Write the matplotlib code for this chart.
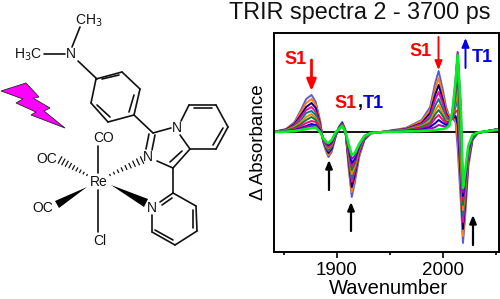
import matplotlib
matplotlib.use('Agg')
import matplotlib.pyplot as plt
import numpy as np

plt.rcParams['font.family'] = ['Liberation Sans', 'DejaVu Sans']

wavenumber = [1842, 1852, 1860, 1866, 1871, 1876, 1880, 1884, 1887, 1890, 1892, 1895, 1899, 1902,
              1905, 1908, 1911, 1914, 1917, 1921, 1926, 1932, 1945, 1965, 1980, 1988, 1993, 1996,
              2000, 2003, 2006, 2009, 2012, 2014, 2017, 2019, 2021, 2024, 2028, 2033, 2053]

s01 = [0.5, 3, 10, 22, 33, 37, 30, 12, -10, -20, -25, -20, -4, 5, 10, 2, -35, -65, -50, -25, -8, -1.5, 0.5, 4, 12, 25, 50, 61, 42, 25, 16, 14, 10, -16, -70, -111, -85, -35, -8, -1, 3]
s02 = [0.4, 2.7, 9, 20, 29, 33, 27, 11, -9, -19, -23, -18, -4, 5, 9, 2, -32, -60, -46, -23, -7, -1.5, 0.4, 3.5, 11, 22, 44, 54, 37, 22, 15, 14, 13, -6, -60, -104, -80, -33, -7, -1, 3]
s03 = [0.4, 2.4, 8, 17, 25, 29, 24, 9, -9, -17, -21, -17, -3, 5, 9, 1, -29, -55, -43, -21, -7, -1, 0.4, 3, 9, 19, 38, 47, 32, 19, 13, 13, 16, 8, -50, -97, -74, -30, -7, -1, 3]
s04 = [0.3, 2, 7, 15, 22, 25, 20, 8, -8, -16, -19, -15, -3, 4, 8, 1, -26, -50, -39, -20, -6, -1, 0.3, 2.7, 8, 16, 33, 40, 28, 17, 12, 13, 20, 22, -40, -90, -69, -28, -6, -1, 3]
s05 = [0.3, 1.7, 6, 12, 19, 21, 17, 6, -8, -15, -18, -14, -2, 4, 8, 1, -24, -46, -36, -18, -6, -1, 0.3, 2.3, 7, 14, 27, 33, 23, 14, 11, 13, 25, 34, -30, -84, -64, -26, -6, -1, 3]
s06 = [0.2, 1.5, 5, 10, 15, 18, 14, 5, -7, -14, -16, -13, -2, 4, 7, 1, -22, -42, -34, -17, -5, -1, 0.2, 2, 6, 11, 22, 27, 19, 12, 10, 14, 30, 46, -20, -78, -60, -24, -5, -1, 3]
s07 = [0.2, 1.2, 4, 8, 12, 15, 12, 4, -7, -13, -15, -12, -2, 4, 7, 0.5, -20, -38, -31, -16, -5, -1, 0.2, 1.7, 5, 9, 18, 22, 16, 10, 10, 15, 36, 58, -8, -73, -56, -22, -5, -1, 3]
s08 = [0.2, 1, 3, 6, 9, 11, 10, 3, -7, -12, -14, -11, -1, 3, 7, 0.5, -18, -34, -29, -15, -5, -1, 0.1, 1.3, 3.5, 7, 14, 17, 12, 9, 9, 16, 42, 70, 5, -68, -52, -20, -4, -0.7, 3]
s09 = [0.1, 0.7, 2, 4, 6, 8, 7, 2, -6, -11, -13, -10, -1, 3, 6, 0.5, -16, -31, -27, -14, -4, -1, 0.1, 1, 2.5, 5, 9, 12, 9, 7, 9, 17, 48, 78, 15, -64, -48, -18, -4, -0.7, 3]
s10 = [0.1, 0.5, 1.5, 3, 5, 6, 6, 1, -6, -11, -12, -9, -0.5, 3, 6, 0, -14, -27, -24, -13, -4, -1, 0, 0.7, 1.7, 3, 5, 7, 6, 5, 8, 20, 52, 80, 25, -60, -44, -16, -4, -0.5, 3]
s11 = [0, 0.3, 1, 2, 3, 4, 4.5, 0, -6, -10, -11, -8, 0, 3, 6, 0, -12, -23, -21, -12, -4, -1, 0, 0.5, 1, 1.5, 2, 2.5, 3, 4, 6, 20, 50, 77, 20, -56, -40, -14, -3, -0.5, 2.5]
series = [s01, s02, s03, s04, s05, s06, s07, s08, s09, s10, s11]
colors = ['#5b5bd6', '#ff8000', '#000080', '#ff00a0', '#008080', '#ff8000', '#008040', '#ff0080', '#0000d0', '#a000c0', '#00f020']

x_ticks = [1900, 2000]
x_minor = [1850, 1950, 2050]

fig = plt.figure(figsize=(5, 2.99), dpi=100)
ax = fig.add_axes([274 / 500, 1 - 252 / 299, 225 / 500, 219 / 299])
ax.axhline(0, color='black', lw=1.3)
for s, c in zip(series, colors):
    ax.plot(wavenumber, s, color=c, lw=1.9 if c == '#00f020' else 1.4)
ax.set_xlim(1840.6, 2053)
ax.set_ylim(-120, 99)
ax.set_yticks([])
ax.set_xticks(x_ticks)
ax.set_xticks(x_minor, minor=True)
ax.tick_params(axis='x', which='major', length=4, width=1.2, labelsize=13.5, pad=3)
ax.tick_params(axis='x', which='minor', length=2.5, width=1.2)
for sp in ax.spines.values():
    sp.set_linewidth(1.4)
ax.set_xlabel('Wavenumber', fontsize=14.5, labelpad=0.5, x=0.51)
ax.set_ylabel('\u0394 Absorbance', fontsize=13.5, labelpad=5)

# overlay in pixel coordinates for the drawing and labels
ov = fig.add_axes([0, 0, 1, 1])
ov.set_xlim(0, 500)
ov.set_ylim(299, 0)
ov.axis('off')

bonds = [[(72, 47), (80, 27)], [(44, 54), (65, 54)], [(78, 61), (97, 79)],
         [(96, 79), (122, 72)], [(122, 72), (140, 89)], [(140, 89), (134, 115)],
         [(134, 115), (108, 122)], [(108, 122), (91, 103)], [(91, 103), (96, 79)],
         [(102, 79), (119, 75)], [(134, 95), (129, 112)], [(97, 105), (110, 117)],
         [(134, 115), (153, 133)], [(153, 133), (171, 128)],
         [(155, 135), (152, 150)], [(149, 134), (146, 149)],
         [(180, 135), (190, 149)], [(190, 149), (173, 168)], [(182, 151), (170, 162)],
         [(173, 168), (157, 161)],
         [(181, 121), (189, 105)], [(189, 105), (216, 105)], [(216, 105), (228, 127)],
         [(228, 127), (216, 149)], [(216, 149), (190, 149)],
         [(194, 108), (212, 108)], [(223, 128), (213, 145)],
         [(173, 168), (173, 193)], [(173, 193), (160, 202)], [(173, 193), (196, 206)],
         [(196, 206), (197, 231)], [(197, 231), (175, 245)], [(175, 245), (152, 232)],
         [(152, 215), (152, 232)], [(172, 198), (162, 205)], [(193, 210), (193, 228)],
         [(155, 230), (173, 240)],
         [(98, 146), (98, 173)], [(98, 190), (98, 232)]]
for b in bonds:
    ov.plot([b[0][0], b[1][0]], [b[0][1], b[1][1]], color='#111111', lw=1.2, solid_capstyle='round')

hashed = [[(87, 175), (60, 160)], [(110, 175), (142, 160)]]
for (x0, y0), (x1, y1) in hashed:
    d = np.array([x1 - x0, y1 - y0], float)
    n = np.array([-d[1], d[0]]) / np.hypot(*d)
    for t in np.linspace(0, 1, 9):
        c = np.array([x0, y0]) + d * t
        h = 0.5 + 3.0 * t
        ov.plot([c[0] - n[0] * h, c[0] + n[0] * h], [c[1] - n[1] * h, c[1] + n[1] * h], color='#111111', lw=0.9)

wedges = [[(87, 187), (55, 201), (59, 208)], [(111, 185), (148, 199), (144, 207)]]
for w in wedges:
    ov.fill(*zip(*w), color='black', lw=0)

bolt = [(1, 91), (26, 83), (39, 97), (33, 98), (50, 108), (44, 111), (65, 128), (31, 115), (36, 112), (16, 103), (23, 99)]
ov.fill(*zip(*bolt), facecolor='#ff00ff', edgecolor='#222222', lw=0.6)

atoms = [('N', 71, 54), ('N', 177, 128), ('N', 148, 157), ('N', 152, 208), ('Re', 99, 182),
         ('CO', 104, 138), ('OC', 47, 159), ('OC', 43, 208), ('Cl', 100, 241),
         ('CH$_3$', 89, 21), ('H$_3$C', 28, 55)]
for label, x, y in atoms:
    ov.text(x, y, label, fontsize=10, ha='center', va='center', color='#111111')

ov.text(360, 12, 'TRIR spectra 2 - 3700 ps', fontsize=16.8, ha='center', va='center', color='#111111')


def arrow(x, y0, y1, color, lw, head):
    ov.annotate('', xy=(x, y1), xytext=(x, y0),
                arrowprops=dict(arrowstyle='-|>,head_width=%g,head_length=%g' % (head, head * 2.4),
                                color=color, lw=lw, shrinkA=0, shrinkB=0))


arrow(311.5, 60, 91, '#ff0000', 2.0, 0.28)
arrow(438.5, 37, 70, '#ff0000', 1.4, 0.22)
arrow(465.5, 68, 38, '#0000e0', 1.4, 0.22)
arrow(329, 190, 160, 'black', 1.6, 0.2)
arrow(351, 231, 202, 'black', 1.6, 0.2)
arrow(473, 245, 215, 'black', 1.6, 0.2)

lab = dict(fontsize=13, fontweight='bold', va='center')
ov.text(296, 60, 'S1', color='#ff0000', ha='center', **lab)
ov.text(421, 52, 'S1', color='#ff0000', ha='center', **lab)
ov.text(482, 57, 'T1', color='#0000e0', ha='center', **lab)
ov.text(346, 103, 'S1', color='#ff0000', ha='center', **lab)
ov.text(360, 103, ',', color='black', ha='center', **lab)
ov.text(373, 103, 'T1', color='#0000e0', ha='center', **lab)

fig.savefig('out.png', dpi=100)
